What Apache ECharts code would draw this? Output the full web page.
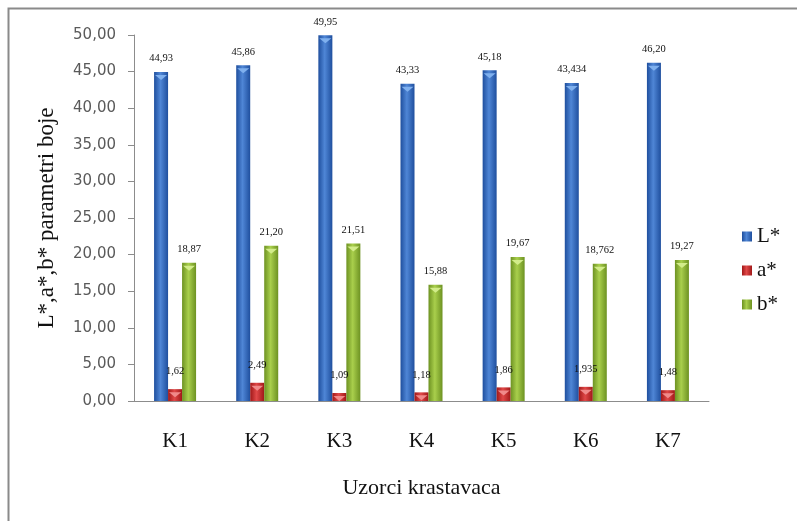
<!DOCTYPE html>
<html>
<head>
<meta charset="utf-8">
<script src="https://cdn.jsdelivr.net/npm/echarts@6/dist/echarts.min.js"></script>
<style>
  html, body { margin: 0; padding: 0; background: #fff; }
  #chart { width: 797px; height: 521px; }
</style>
</head>
<body>
<div id="chart"></div>
<script>
// Samples and colour parameters
const categories = ['K1', 'K2', 'K3', 'K4', 'K5', 'K6', 'K7'];
const seriesNames = ['L*', 'a*', 'b*'];
const valuesL = [44.93, 45.86, 49.95, 43.33, 45.18, 43.434, 46.20];
const valuesA = [1.62, 2.49, 1.09, 1.18, 1.86, 1.935, 1.48];
const valuesB = [18.87, 21.20, 21.51, 15.88, 19.67, 18.762, 19.27];
const yTicks = { min: 0, max: 50, interval: 5 };

// Decimal comma, at least two decimals
function fmt(v) {
  const s = String(v);
  const dec = s.includes('.') ? s.split('.')[1].length : 0;
  return (dec < 2 ? v.toFixed(2) : s).replace('.', ',');
}

const palette = [
  { edge: '#1f4f9e', mid: '#4f86d6', cap: '#7fb0ee' },
  { edge: '#a01818', mid: '#e04848', cap: '#f08a8a' },
  { edge: '#6d9222', mid: '#a9cf4c', cap: '#d2ec8a' }
];

function barGradient(c) {
  return new echarts.graphic.LinearGradient(0, 0, 1, 0, [
    { offset: 0, color: c.edge },
    { offset: 0.45, color: c.mid },
    { offset: 1, color: c.edge }
  ]);
}

const allValues = [valuesL, valuesA, valuesB];

const barSeries = allValues.map((vals, i) => ({
  name: seriesNames[i],
  type: 'bar',
  data: vals,
  barWidth: 14,
  barGap: '0%',
  itemStyle: { color: barGradient(palette[i]) },
  label: {
    show: true,
    position: 'top',
    distance: i === 1 ? 12 : 8,
    formatter: p => fmt(p.value),
    fontFamily: 'Liberation Serif',
    fontSize: 10.5,
    color: '#111'
  }
}));

// Lighter top faces of the bars
const capSeries = allValues.map((vals, i) => ({
  name: seriesNames[i],
  type: 'pictorialBar',
  data: vals,
  barWidth: 14,
  barGap: '0%',
  symbol: 'path://M0,0 L14,0 L7,6 Z',
  symbolSize: [12, 5],
  symbolPosition: 'end',
  symbolOffset: [0, '60%'],
  itemStyle: { color: palette[i].cap },
  z: 3,
  silent: true,
  tooltip: { show: false }
}));

const chart = echarts.init(document.getElementById('chart'), null, { renderer: 'canvas' });
chart.setOption({
  animation: false,
  backgroundColor: '#fff',
  graphic: [{
    type: 'rect',
    shape: { x: 8.5, y: 8.5, width: 820, height: 560 },
    style: { fill: 'none', stroke: '#8a8a8a', lineWidth: 2 },
    silent: true
  }],
  grid: { left: 134, right: 88, top: 35, bottom: 120 },
  legend: {
    orient: 'vertical',
    left: 737,
    top: 221,
    itemGap: 13,
    itemWidth: 10,
    itemHeight: 10,
    icon: 'rect',
    data: seriesNames,
    textStyle: { fontFamily: 'Liberation Serif', fontSize: 21, color: '#111' }
  },
  xAxis: {
    type: 'category',
    data: categories,
    name: 'Uzorci krastavaca',
    nameLocation: 'middle',
    nameGap: 76,
    nameTextStyle: { fontFamily: 'Liberation Serif', fontSize: 22, color: '#111' },
    axisLine: { lineStyle: { color: '#8c8c8c', width: 1 } },
    axisTick: { show: false },
    axisLabel: { fontFamily: 'Liberation Serif', fontSize: 21, color: '#111', margin: 30 }
  },
  yAxis: {
    type: 'value',
    min: yTicks.min,
    max: yTicks.max,
    interval: yTicks.interval,
    name: 'L*,a*,b* parametri boje',
    nameLocation: 'middle',
    nameGap: 76,
    nameTextStyle: { fontFamily: 'Liberation Serif', fontSize: 23, color: '#111' },
    splitLine: { show: false },
    axisLine: { show: true, lineStyle: { color: '#8c8c8c', width: 1 } },
    axisTick: { show: true, length: 6, lineStyle: { color: '#8c8c8c' } },
    axisLabel: {
      formatter: v => v.toFixed(2).replace('.', ','),
      fontFamily: 'DejaVu Sans',
      fontSize: 15,
      color: '#5a5a5a',
      margin: 18
    }
  },
  series: barSeries.concat(capSeries)
});
</script>
</body>
</html>
